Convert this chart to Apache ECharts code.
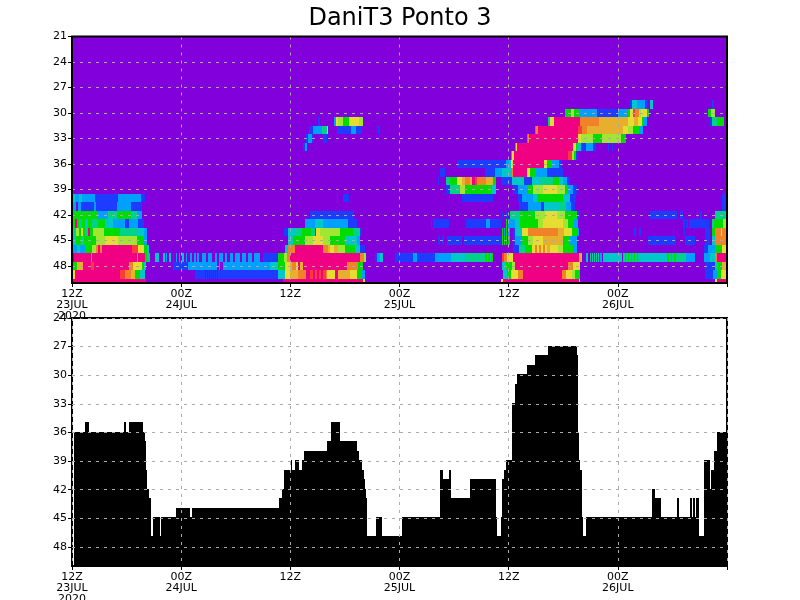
<!DOCTYPE html>
<html>
<head>
<meta charset="utf-8">
<title>DaniT3 Ponto 3</title>
<script src="https://cdn.jsdelivr.net/npm/echarts@6/dist/echarts.min.js"></script>
<style>
  html, body { margin: 0; padding: 0; background: #ffffff; }
  #chart { width: 800px; height: 600px; }
</style>
</head>
<body>
<div id="chart"></div>
<script>
// tempo em passos de 72h/655, uma faixa = [inicio, fim, classe]
var totalSteps = 655
var totalHours = 72
var xTickLabels = ["12Z\n23JUL\n2020", "00Z\n24JUL", "12Z", "00Z\n25JUL", "12Z", "00Z\n26JUL", ""]
var topLevelTicks = [21, 24, 27, 30, 33, 36, 39, 42, 45, 48]
var bottomLevelTicks = [24, 27, 30, 33, 36, 39, 42, 45, 48]

// classes: 0 fundo, 1 azul ... 11 rosa
var classColors = ["#8200dc", "#1e3cff", "#00a0ff", "#00c8c8", "#00d28c", "#00dc00", "#a0e632", "#e6dc32", "#e6af2d", "#f08228", "#fa3c3c", "#f00082"]

var level29 = [[558,560,1],[560,565,3],[565,573,2],[573,576,1],[578,581,3],[640,642,1]]
var level30 = [[493,499,5],[499,502,6],[502,508,5],[508,525,2],[525,545,1],[546,556,2],[556,558,5],[558,561,7],[561,563,10],[563,567,9],[567,569,6],[569,575,7],[575,577,5],[636,639,5],[639,643,6]]
var level31 = [[246,248,1],[262,264,2],[264,266,7],[266,271,6],[271,277,5],[277,287,7],[287,291,6],[476,478,4],[478,482,7],[482,508,11],[508,527,9],[527,556,8],[556,562,7],[562,566,8],[566,570,7],[570,572,5],[572,575,2],[638,640,1],[640,645,4],[645,652,5]]
var level32 = [[237,241,1],[241,250,2],[250,255,4],[255,256,6],[265,279,1],[279,284,2],[284,290,1],[306,308,1],[463,464,5],[464,466,9],[466,506,11],[506,510,10],[510,515,9],[515,551,8],[551,556,7],[556,561,6],[561,567,5],[567,571,2]]
var level33 = [[234,236,1],[236,240,2],[240,242,1],[251,255,1],[455,456,5],[456,457,9],[457,506,11],[506,509,7],[509,521,6],[521,530,5],[530,549,6],[549,553,5],[553,554,2]]
var level34 = [[231,233,1],[233,235,2],[443,444,5],[444,445,7],[445,501,11],[501,504,7],[504,505,5],[505,509,3],[509,514,1],[514,521,2],[521,524,1],[536,537,1],[540,541,1]]
var level35 = [[439,440,5],[440,442,7],[442,496,11],[496,500,10],[500,502,6],[502,504,5],[504,506,1]]
var level36 = [[385,434,1],[434,437,2],[437,439,3],[439,441,7],[441,472,11],[472,475,7],[475,480,5],[480,487,2],[487,490,1]]
var level37 = [[368,373,1],[413,423,1],[423,430,2],[430,440,3],[440,441,9],[441,455,11],[455,458,7],[458,463,5],[463,475,2],[475,491,1]]
var level38 = [[366,367,1],[374,378,4],[378,385,5],[385,390,7],[390,393,8],[393,398,9],[398,400,8],[400,403,11],[403,405,10],[405,414,9],[414,421,8],[421,424,5],[429,440,1],[440,450,3],[450,452,4],[452,460,1],[460,470,3],[470,481,4],[481,487,5],[487,491,3],[491,495,2],[495,498,1]]
var level39 = [[374,378,1],[378,388,4],[388,393,6],[393,420,5],[420,424,3],[441,446,1],[446,456,2],[456,461,5],[461,471,6],[471,485,7],[485,493,6],[493,496,5],[496,501,2],[501,505,1]]
var level40 = [[1,3,3],[3,7,2],[7,10,3],[10,23,2],[23,46,1],[46,69,2],[69,73,1],[265,266,1],[271,277,1],[377,378,1],[390,421,1],[446,450,1],[450,461,2],[461,465,3],[465,491,5],[491,498,3],[498,504,1],[650,654,1]]
var level41 = [[1,4,2],[6,9,2],[9,22,1],[22,24,2],[24,45,1],[45,59,2],[59,70,1],[447,456,1],[456,469,2],[469,472,1],[472,488,3],[488,494,4],[494,499,2],[499,503,1],[650,654,1]]
var level42 = [[1,26,5],[26,36,2],[36,45,4],[45,59,5],[59,65,4],[65,70,2],[238,282,1],[377,378,1],[430,431,1],[434,435,1],[438,448,4],[448,463,5],[463,473,6],[473,485,7],[485,493,6],[493,505,5],[505,508,1],[578,605,1],[608,611,1],[625,626,1],[628,630,1],[643,654,4]]
var level43 = [[1,3,5],[3,5,11],[5,7,5],[7,10,4],[10,13,5],[13,16,3],[16,20,5],[20,26,4],[26,33,5],[33,41,3],[41,53,2],[53,57,1],[57,66,2],[66,72,1],[233,243,2],[243,251,3],[251,276,2],[276,285,1],[359,360,1],[361,377,1],[394,414,1],[414,418,2],[418,429,1],[434,435,5],[436,438,2],[438,443,2],[443,448,3],[448,466,5],[466,471,6],[471,491,7],[491,496,6],[496,502,5],[502,506,2],[611,613,1],[614,616,1],[617,637,1],[640,642,4],[642,651,5],[651,654,6]]
var level44 = [[1,4,4],[4,7,6],[7,9,5],[9,11,7],[11,13,5],[13,16,4],[16,18,11],[18,21,5],[21,32,6],[32,48,5],[48,65,4],[65,72,3],[72,75,2],[212,216,1],[216,223,3],[223,230,4],[230,239,5],[239,243,4],[243,244,11],[244,248,7],[248,268,6],[268,281,5],[281,288,4],[288,290,1],[430,431,5],[432,433,2],[434,435,5],[436,438,2],[441,443,1],[443,450,3],[450,456,7],[456,486,9],[486,492,8],[492,500,7],[500,505,5],[505,507,2],[562,564,1],[567,569,1],[601,602,1],[612,613,1],[633,638,1],[640,643,5],[643,649,9],[649,650,7],[650,654,9]]
var level45 = [[1,4,3],[4,9,5],[9,12,4],[12,24,5],[24,33,6],[33,46,7],[46,65,6],[65,72,5],[72,75,2],[216,221,3],[221,233,5],[233,241,6],[241,251,7],[251,258,6],[258,273,5],[273,285,3],[285,288,2],[366,368,1],[370,372,1],[375,390,1],[392,430,1],[430,431,5],[432,433,5],[434,435,5],[436,438,5],[441,443,1],[443,450,2],[450,456,5],[456,461,6],[461,471,7],[471,491,8],[491,498,5],[498,505,2],[576,604,1],[613,623,1],[633,638,1],[640,643,3],[643,654,9]]
var level46 = [[1,5,2],[5,8,3],[8,13,2],[13,20,5],[20,24,6],[24,26,9],[26,28,11],[28,30,9],[30,60,11],[60,66,10],[66,72,7],[72,75,5],[75,77,3],[213,216,3],[216,223,9],[223,251,11],[251,256,9],[256,258,8],[258,262,7],[262,266,8],[266,273,6],[273,283,5],[283,288,3],[288,293,1],[441,447,1],[447,453,4],[453,460,5],[460,463,7],[463,465,9],[465,467,7],[467,469,9],[469,471,7],[471,473,9],[473,475,7],[475,478,8],[478,486,7],[486,491,6],[491,501,5],[501,505,2],[632,636,1],[636,643,2],[643,650,5],[650,654,7]]
var level47 = [[2,19,11],[19,20,9],[20,65,11],[65,66,9],[66,73,11],[73,75,5],[75,78,4],[83,87,3],[91,93,3],[94,95,2],[97,99,3],[101,102,1],[104,105,2],[107,108,2],[110,112,3],[114,115,2],[118,120,2],[122,124,2],[125,127,2],[130,134,2],[136,140,2],[143,145,2],[147,151,2],[153,155,2],[158,161,2],[163,168,2],[170,174,2],[176,180,2],[182,188,2],[191,206,1],[206,212,5],[212,215,6],[215,218,9],[218,288,11],[288,292,9],[292,294,6],[303,305,1],[305,308,2],[308,311,3],[323,341,1],[341,345,2],[345,363,1],[363,379,2],[379,393,3],[393,413,4],[413,415,5],[415,416,4],[416,418,5],[418,419,4],[419,421,5],[430,432,10],[432,435,9],[435,441,7],[441,507,11],[507,510,8],[514,516,3],[518,519,4],[520,521,3],[522,523,4],[524,525,3],[526,527,4],[528,530,2],[531,550,3],[551,553,4],[553,554,5],[554,556,4],[556,557,5],[557,559,4],[559,560,5],[560,562,4],[562,563,5],[563,565,4],[565,566,5],[566,568,4],[568,595,3],[595,597,5],[597,599,4],[599,600,5],[600,602,4],[602,604,5],[604,614,4],[614,623,2],[632,638,2],[638,643,3],[643,645,9],[645,654,11]]
var level48 = [[1,5,5],[5,11,8],[11,19,11],[19,22,10],[22,57,11],[57,61,9],[61,70,7],[70,72,5],[72,74,3],[101,116,1],[116,145,2],[145,146,1],[147,148,2],[149,150,1],[151,198,2],[198,206,3],[206,213,5],[213,218,7],[218,220,8],[220,224,9],[224,226,7],[226,228,11],[228,231,8],[231,275,11],[275,286,9],[286,291,5],[430,434,3],[434,440,5],[440,443,6],[443,496,11],[496,501,9],[501,508,7],[633,643,1],[643,646,4],[646,650,5],[650,654,8]]
var level49 = [[1,3,7],[3,48,11],[48,53,10],[53,59,9],[59,63,8],[63,68,5],[68,73,3],[123,133,1],[134,135,1],[136,137,1],[138,139,1],[140,141,1],[142,143,1],[144,145,1],[146,206,1],[206,213,3],[213,218,7],[218,226,8],[226,234,9],[234,238,11],[238,241,10],[241,243,11],[243,245,10],[245,247,11],[247,249,10],[249,251,11],[251,254,10],[254,255,9],[255,263,7],[263,266,11],[266,278,8],[278,285,7],[285,290,5],[290,293,2],[431,435,3],[435,439,5],[439,446,7],[446,451,9],[451,490,11],[490,494,9],[494,500,7],[500,503,6],[503,508,5],[633,641,1],[641,645,2],[645,649,5],[649,654,7]]
var level50 = [[1,74,11],[211,291,11],[291,293,7],[429,431,7],[431,507,11],[507,508,7],[643,645,7],[645,654,11]]

// topo da nuvem: [inicio, fim, nivel]
var cloudTopRuns = [
  [2,13,36],[13,17,35],[17,52,36],[52,54,35],[54,57,36],[57,71,35],[71,73,36],[73,74,37],[74,75,40],[75,77,42],[77,79,43],[79,81,47],
  [81,88,45],[88,89,47],[89,104,45],[104,118,44],[118,120,45],[120,207,44],[207,210,43],[210,212,42],[212,219,40],[219,220,39],[220,223,40],[223,227,39],
  [227,230,40],[230,232,39],[232,255,38],[255,259,37],[259,268,35],[268,285,37],[285,287,38],[287,290,39],[290,292,40],[292,293,41],[293,294,42],[294,295,43],
  [295,304,47],[304,310,45],[310,330,47],[330,368,45],[368,371,40],[371,377,41],[377,379,40],[379,398,43],[398,424,41],[424,425,45],[425,429,47],[429,430,45],
  [430,432,41],[432,434,40],[434,440,39],[440,443,33],[443,445,31],[445,455,30],[455,463,29],[463,476,28],[476,505,27],[505,506,28],[506,507,36],[507,508,39],
  [508,510,40],[510,511,45],[511,514,47],[514,580,45],[580,583,42],[583,589,43],[589,605,45],[605,607,43],[607,618,45],[618,620,43],[620,621,45],[621,623,43],
  [623,624,45],[624,627,43],[627,632,47],[632,638,39],[638,639,42],[639,642,40],[642,645,38],[645,655,36]
]

var heatRows = [
  [29, level29], [30, level30], [31, level31], [32, level32], [33, level33], [34, level34], [35, level35], [36, level36], [37, level37], [38, level38], [39, level39],
  [40, level40], [41, level41], [42, level42], [43, level43], [44, level44], [45, level45], [46, level46], [47, level47], [48, level48], [49, level49], [50, level50]
]

var topMinLevel = 21
var topMaxLevel = 50
var bottomMinLevel = 24
var bottomMaxLevel = 50

function stepToHour(step) {
  return step * totalHours / totalSteps
}

// fundo roxo primeiro, depois as faixas de cada nivel
var heatData = []
for (var lev = topMinLevel; lev <= topMaxLevel; lev++) {
  heatData.push([0, totalHours, lev, 0])
}
heatRows.forEach(function (row) {
  row[1].forEach(function (run) {
    heatData.push([stepToHour(run[0]), stepToHour(run[1]), row[0], run[2]])
  })
})

var cloudData = cloudTopRuns.map(function (run) {
  return [stepToHour(run[0]), stepToHour(run[1]), run[2]]
})

function clippedRect(params, api, x0, x1, y0, y1, color) {
  var a = api.coord([x0, y0])
  var b = api.coord([x1, y1])
  var rect = {
    x: Math.round(a[0]),
    y: Math.round(a[1]),
    width: Math.round(b[0]) - Math.round(a[0]),
    height: Math.round(b[1]) - Math.round(a[1])
  }
  return {
    type: "rect",
    shape: echarts.graphic.clipRectByRect(rect, {
      x: params.coordSys.x,
      y: params.coordSys.y,
      width: params.coordSys.width,
      height: params.coordSys.height
    }),
    style: { fill: color }
  }
}

function renderHeat(params, api) {
  var lev = api.value(2)
  return clippedRect(params, api, api.value(0), api.value(1), lev - 0.5, lev + 0.5, classColors[api.value(3)])
}

function renderCloud(params, api) {
  return clippedRect(params, api, api.value(0), api.value(1), api.value(2) - 0.1, bottomMaxLevel, "#000000")
}

function xAxisFor(gridIndex) {
  return {
    type: "value",
    gridIndex: gridIndex,
    min: 0,
    max: totalHours,
    interval: 12,
    z: 10,
    axisLine: { show: false },
    axisTick: { show: true, length: 4, inside: false, lineStyle: { color: "#000000", width: 1 } },
    axisLabel: {
      show: true,
      margin: 6,
      color: "#000000",
      fontFamily: "DejaVu Sans",
      fontSize: 11,
      lineHeight: 11,
      showMinLabel: true,
      showMaxLabel: true,
      hideOverlap: false,
      formatter: function (value) {
        return xTickLabels[Math.round(value / 12)]
      }
    },
    splitLine: { show: true, lineStyle: { color: "#aaaaaa", width: 1, type: [3, 5] } }
  }
}

function yAxisFor(gridIndex, minLevel, maxLevel, ticks) {
  return {
    type: "value",
    gridIndex: gridIndex,
    inverse: true,
    min: minLevel,
    max: maxLevel,
    z: 10,
    axisLine: { show: false },
    axisTick: { show: true, length: 4, customValues: ticks, lineStyle: { color: "#000000", width: 1 } },
    axisLabel: {
      show: true,
      margin: 5,
      color: "#000000",
      fontFamily: "DejaVu Sans",
      fontSize: 11,
      padding: [2, 0, 0, 0],
      customValues: ticks
    },
    splitLine: { show: true, lineStyle: { color: "#aaaaaa", width: 1, type: [3, 5] } }
  }
}

var chart = echarts.init(document.getElementById("chart"), null, { renderer: "canvas" })

var option = {
  animation: false,
  backgroundColor: "#ffffff",
  title: {
    text: "DaniT3 Ponto 3",
    left: "center",
    top: 2,
    textStyle: { color: "#000000", fontFamily: "DejaVu Sans", fontWeight: "normal", fontSize: 24 }
  },
  grid: [
    { left: 72, width: 655, top: 36.5, height: 246.5, show: true, z: 11, outerBoundsMode: "none", backgroundColor: "transparent", borderColor: "#000000", borderWidth: 2 },
    { left: 72, width: 655, top: 318, height: 248, show: true, z: 5, outerBoundsMode: "none", backgroundColor: "transparent", borderColor: "#000000", borderWidth: 2 }
  ],
  xAxis: [xAxisFor(0), xAxisFor(1)],
  yAxis: [
    yAxisFor(0, topMinLevel, topMaxLevel, topLevelTicks),
    yAxisFor(1, bottomMinLevel, bottomMaxLevel, bottomLevelTicks)
  ],
  series: [
    {
      type: "custom",
      xAxisIndex: 0,
      yAxisIndex: 0,
      silent: true,
      clip: true,
      renderItem: renderHeat,
      encode: { x: [0, 1], y: 2 },
      data: heatData
    },
    {
      type: "custom",
      xAxisIndex: 1,
      yAxisIndex: 1,
      silent: true,
      clip: true,
      renderItem: renderCloud,
      encode: { x: [0, 1], y: 2 },
      data: cloudData
    }
  ]
}

chart.setOption(option)
</script>
</body>
</html>
